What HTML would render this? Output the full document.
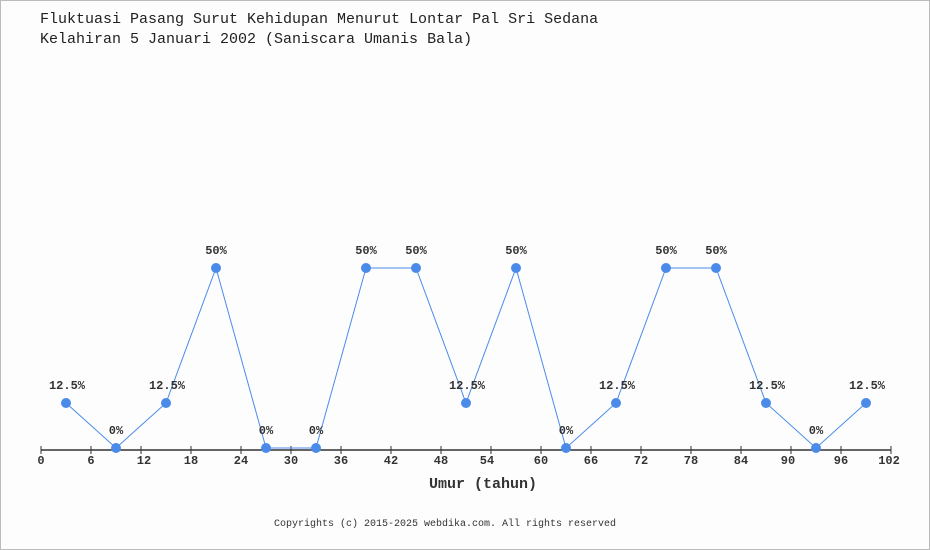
<!DOCTYPE html>
<html><head><style>body{margin:0;background:#fff}svg{display:block}</style></head><body>
<svg width="930" height="550" xmlns="http://www.w3.org/2000/svg" font-family="Liberation Mono, DejaVu Sans Mono, monospace">
<rect x="0.5" y="0.5" width="929" height="549" fill="#fdfdfd" stroke="#bbb"/>
<text x="40" y="23" font-size="15" fill="#222">Fluktuasi Pasang Surut Kehidupan Menurut Lontar Pal Sri Sedana</text>
<text x="40" y="43" font-size="15" fill="#222">Kelahiran 5 Januari 2002 (Saniscara Umanis Bala)</text>
<line x1="41" y1="450" x2="891" y2="450" stroke="#333" stroke-width="1.5"/>
<g stroke="#333" stroke-width="1">
<line x1="41" y1="446" x2="41" y2="454"/><line x1="91" y1="446" x2="91" y2="454"/><line x1="141" y1="446" x2="141" y2="454"/><line x1="191" y1="446" x2="191" y2="454"/><line x1="241" y1="446" x2="241" y2="454"/><line x1="291" y1="446" x2="291" y2="454"/><line x1="341" y1="446" x2="341" y2="454"/><line x1="391" y1="446" x2="391" y2="454"/><line x1="441" y1="446" x2="441" y2="454"/><line x1="491" y1="446" x2="491" y2="454"/><line x1="541" y1="446" x2="541" y2="454"/><line x1="591" y1="446" x2="591" y2="454"/><line x1="641" y1="446" x2="641" y2="454"/><line x1="691" y1="446" x2="691" y2="454"/><line x1="741" y1="446" x2="741" y2="454"/><line x1="791" y1="446" x2="791" y2="454"/><line x1="841" y1="446" x2="841" y2="454"/><line x1="891" y1="446" x2="891" y2="454"/>
</g>
<g font-size="12" fill="#333" text-anchor="middle" font-weight="bold">
<text x="41" y="464">0</text><text x="91" y="464">6</text><text x="144" y="464">12</text><text x="191" y="464">18</text><text x="241" y="464">24</text><text x="291" y="464">30</text><text x="341" y="464">36</text><text x="391" y="464">42</text><text x="441" y="464">48</text><text x="487" y="464">54</text><text x="541" y="464">60</text><text x="591" y="464">66</text><text x="641" y="464">72</text><text x="691" y="464">78</text><text x="741" y="464">84</text><text x="788" y="464">90</text><text x="841" y="464">96</text><text x="889" y="464">102</text>
</g>
<text x="483" y="488" font-size="15" fill="#333" text-anchor="middle" font-weight="bold">Umur (tahun)</text>
<polyline fill="none" stroke="#4a8bea" stroke-width="1" points="66,403 116,448 166,403 216,268 266,448 316,448 366,268 416,268 466,403 516,268 566,448 616,403 666,268 716,268 766,403 816,448 866,403"/>
<g fill="#4a8bea">
<circle cx="66" cy="403" r="5"/><circle cx="116" cy="448" r="5"/><circle cx="166" cy="403" r="5"/><circle cx="216" cy="268" r="5"/><circle cx="266" cy="448" r="5"/><circle cx="316" cy="448" r="5"/><circle cx="366" cy="268" r="5"/><circle cx="416" cy="268" r="5"/><circle cx="466" cy="403" r="5"/><circle cx="516" cy="268" r="5"/><circle cx="566" cy="448" r="5"/><circle cx="616" cy="403" r="5"/><circle cx="666" cy="268" r="5"/><circle cx="716" cy="268" r="5"/><circle cx="766" cy="403" r="5"/><circle cx="816" cy="448" r="5"/><circle cx="866" cy="403" r="5"/>
</g>
<g font-size="12" fill="#333" text-anchor="middle" font-weight="bold">
<text x="67" y="389">12.5%</text><text x="116" y="434">0%</text><text x="167" y="389">12.5%</text><text x="216" y="254">50%</text><text x="266" y="434">0%</text><text x="316" y="434">0%</text><text x="366" y="254">50%</text><text x="416" y="254">50%</text><text x="467" y="389">12.5%</text><text x="516" y="254">50%</text><text x="566" y="434">0%</text><text x="617" y="389">12.5%</text><text x="666" y="254">50%</text><text x="716" y="254">50%</text><text x="767" y="389">12.5%</text><text x="816" y="434">0%</text><text x="867" y="389">12.5%</text>
</g>
<text x="445" y="526" font-size="10" fill="#333" text-anchor="middle">Copyrights (c) 2015-2025 webdika.com. All rights reserved</text>
</svg>
</body></html>
